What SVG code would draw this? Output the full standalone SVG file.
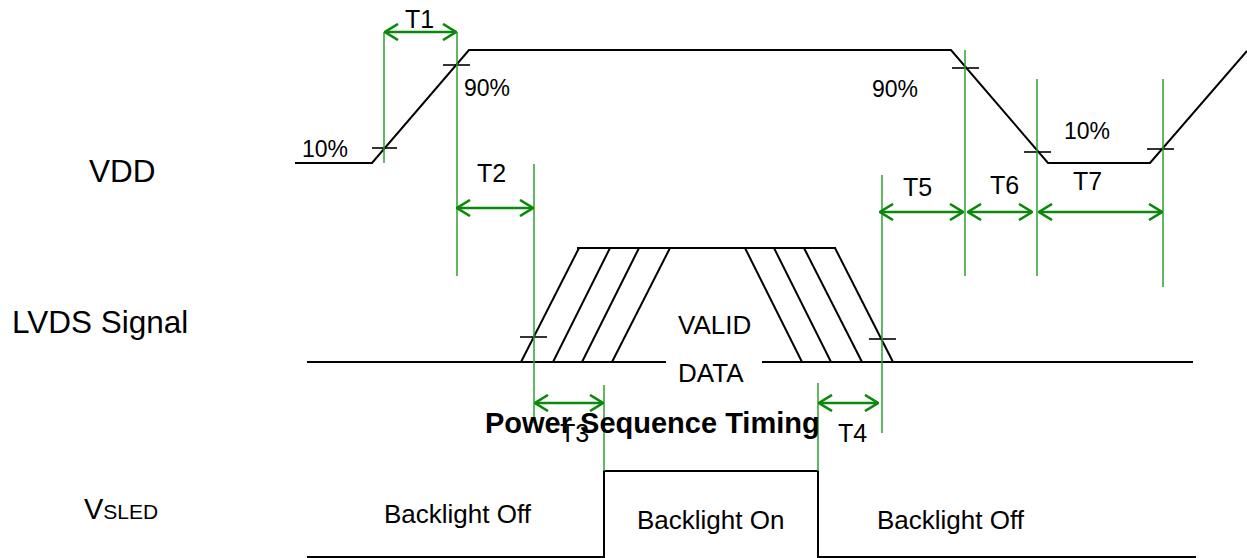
<svg xmlns="http://www.w3.org/2000/svg" width="1247" height="558" viewBox="0 0 1247 558">
<style>
  .wave { fill: none; stroke: #000; stroke-width: 2; stroke-linejoin: miter; }
  .tick { fill: none; stroke: #000; stroke-width: 1.6; }
  .guide { fill: none; stroke: #2ea02e; stroke-width: 1.5; }
  .dim { fill: none; stroke: #0c880c; stroke-width: 2.6; marker-start: url(#ah); marker-end: url(#ah); }
  text { font-family: "Liberation Sans", Arial, sans-serif; fill: #000; }
  .lbl { font-size: 31.5px; }
  .pct { font-size: 23px; }
  .tl { font-size: 25px; }
  .data { font-size: 26px; }
  .bl { font-size: 26px; }
  .title { font-size: 29px; font-weight: bold; }
</style>
<defs>
  <marker id="ah" viewBox="0 0 15 18" refX="14" refY="9" markerWidth="15" markerHeight="18" markerUnits="userSpaceOnUse" orient="auto-start-reverse">
    <path d="M1,1 L14,9 L1,17" fill="none" stroke="#0c880c" stroke-width="2.6"/>
  </marker>
</defs>
<rect width="1247" height="558" fill="#fff"/>

<g id="labels">
  <text class="lbl" x="89" y="182">VDD</text>
  <text class="lbl" x="12" y="333">LVDS Signal</text>
  <text x="84" y="519" font-size="29">V<tspan font-size="21">SLED</tspan></text>
</g>

<g id="vdd">
  <polyline class="wave" points="295,163 372,163 469,50 951,50 1048,163 1150,163 1247,51"/>
  <line class="tick" x1="372" y1="148" x2="397" y2="148"/>
  <line class="tick" x1="443" y1="65" x2="470" y2="65"/>
  <line class="tick" x1="952" y1="68" x2="979" y2="68"/>
  <line class="tick" x1="1024" y1="152" x2="1051" y2="152"/>
  <line class="tick" x1="1147" y1="149" x2="1174" y2="149"/>
  <text class="pct" x="302" y="157">10%</text>
  <text class="pct" x="464" y="96">90%</text>
  <text class="pct" x="872" y="97">90%</text>
  <text class="pct" x="1064" y="139">10%</text>
</g>

<g id="lvds">
  <line class="wave" x1="307" y1="362" x2="666" y2="362"/>
  <line class="wave" x1="762" y1="362" x2="1193" y2="362"/>
  <line class="wave" x1="577" y1="248" x2="836" y2="248"/>
  <line class="wave" x1="521" y1="362" x2="579" y2="248"/>
  <line class="wave" x1="553" y1="362" x2="610" y2="248"/>
  <line class="wave" x1="582" y1="362" x2="639" y2="248"/>
  <line class="wave" x1="612" y1="362" x2="670" y2="248"/>
  <line class="wave" x1="745" y1="248" x2="802" y2="362"/>
  <line class="wave" x1="774" y1="248" x2="831" y2="362"/>
  <line class="wave" x1="804" y1="248" x2="862" y2="362"/>
  <line class="wave" x1="835" y1="248" x2="893" y2="362"/>
  <line class="tick" x1="520" y1="337" x2="547" y2="337"/>
  <line class="tick" x1="869" y1="339" x2="896" y2="339"/>
  <text class="data" x="678" y="334">VALID</text>
  <text class="data" x="678" y="382">DATA</text>
</g>

<g id="vsled">
  <polyline class="wave" points="307,557 604,557 604,471 818,471 818,557 1196,557"/>
  <text class="bl" x="384" y="523">Backlight Off</text>
  <text class="bl" x="637" y="529">Backlight On</text>
  <text class="bl" x="877" y="529">Backlight Off</text>
</g>

<g id="connectors">
  <line class="guide" x1="384" y1="32" x2="384" y2="163"/>
  <line class="guide" x1="457" y1="32" x2="457" y2="276"/>
  <line class="guide" x1="534" y1="164" x2="534" y2="423"/>
  <line class="guide" x1="604" y1="385" x2="604" y2="471"/>
  <line class="guide" x1="818" y1="383" x2="818" y2="471"/>
  <line class="guide" x1="882" y1="175" x2="882" y2="433"/>
  <line class="guide" x1="965" y1="50" x2="965" y2="276"/>
  <line class="guide" x1="1037" y1="79" x2="1037" y2="276"/>
  <line class="guide" x1="1163" y1="79" x2="1163" y2="287"/>
  <line class="dim" x1="385" y1="32" x2="456" y2="32"/>
  <line class="dim" x1="457" y1="208" x2="533" y2="208"/>
  <line class="dim" x1="535" y1="403" x2="603" y2="403"/>
  <line class="dim" x1="819" y1="403" x2="878" y2="403"/>
  <line class="dim" x1="880" y1="212" x2="963" y2="212"/>
  <line class="dim" x1="968" y1="212" x2="1032" y2="212"/>
  <line class="dim" x1="1039" y1="212" x2="1162" y2="212"/>
</g>

<g id="dimlabels">
  <text class="tl" x="405" y="28">T1</text>
  <text class="tl" x="477" y="182">T2</text>
  <text class="tl" x="560" y="442">T3</text>
  <text class="tl" x="838" y="442">T4</text>
  <text class="tl" x="903" y="196">T5</text>
  <text class="tl" x="990" y="194">T6</text>
  <text class="tl" x="1073" y="190">T7</text>
</g>

<g id="title">
  <text class="title" x="485" y="433">Power Sequence Timing</text>
</g>
</svg>
